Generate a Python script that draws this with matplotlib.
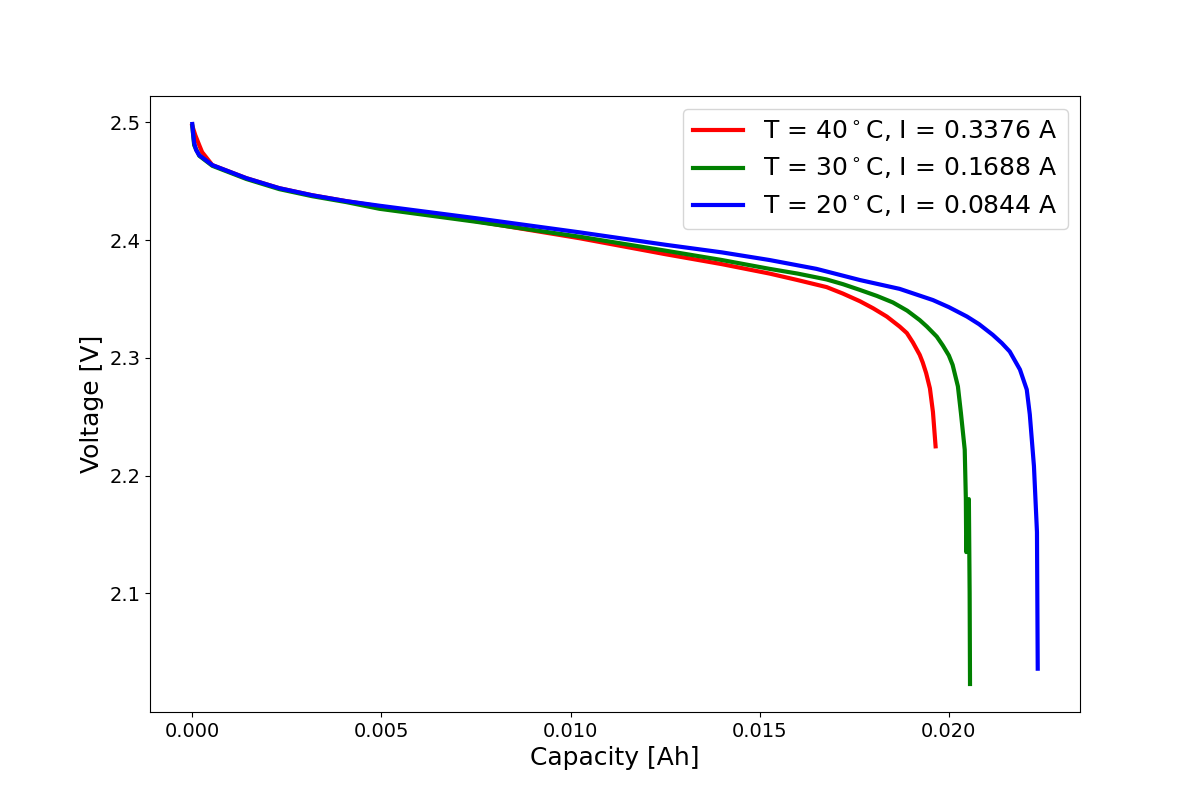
import numpy as np
import matplotlib
matplotlib.use('Agg')
import matplotlib.pyplot as plt

# capacity [Ah] / voltage [V]
cap_40 = [0.0, 0.00008, 0.000185, 0.00026, 0.00053, 0.00143, 0.0023, 0.00317, 0.00407, 0.00495,
          0.0075, 0.01024, 0.0125, 0.0140, 0.01526, 0.0160, 0.01677, 0.0172, 0.01765, 0.0180,
          0.01836, 0.0187, 0.01889, 0.01905, 0.01923, 0.01931, 0.0194, 0.0195, 0.01958, 0.01965]
v_40 = [2.497, 2.489, 2.4805, 2.4746, 2.4636, 2.4525, 2.444, 2.438, 2.433, 2.4285,
        2.416, 2.4015, 2.388, 2.3795, 2.3715, 2.3660, 2.3600, 2.3545, 2.3480, 2.3420,
        2.3350, 2.3265, 2.3210, 2.3130, 2.3025, 2.2960, 2.2870, 2.2740, 2.2540, 2.2248]

cap_30 = [0.0, 0.00005, 0.000185, 0.00053, 0.00143, 0.0023, 0.00317, 0.00407, 0.00495,
          0.0075, 0.01024, 0.0125, 0.0140, 0.01526, 0.0160, 0.01677, 0.0172, 0.01765, 0.0181,
          0.01852, 0.0189, 0.01923, 0.01942, 0.01968, 0.01984, 0.02, 0.0201, 0.02024, 0.02032,
          0.02042, 0.02045, 0.02046, 0.02053, 0.02055, 0.02056]
v_30 = [2.497, 2.4805, 2.4715, 2.4630, 2.4518, 2.4432, 2.4372, 2.4322, 2.4265,
        2.4155, 2.4028, 2.391, 2.3830, 2.3755, 2.3715, 2.3665, 2.3625, 2.3576, 2.3525,
        2.3470, 2.3400, 2.3320, 2.3265, 2.3180, 2.3105, 2.3020, 2.2940, 2.2757, 2.2530,
        2.2220, 2.180, 2.135, 2.180, 2.100, 2.023]

cap_20 = [0.0, 0.00002, 0.00005, 0.0001, 0.000185, 0.00053, 0.00143, 0.0023, 0.00317, 0.00407,
          0.00495, 0.0075, 0.01024, 0.0125, 0.0140, 0.01526, 0.0165, 0.01765, 0.0187, 0.01958,
          0.0200, 0.02048, 0.0208, 0.02116, 0.0214, 0.02161, 0.02188, 0.02206, 0.02214,
          0.02225, 0.02233, 0.02235]
v_20 = [2.4985, 2.491, 2.4825, 2.4765, 2.4720, 2.4636, 2.4525, 2.444, 2.438, 2.433,
        2.4291, 2.4185, 2.4065, 2.396, 2.3895, 2.383, 2.3755, 2.366, 2.3585, 2.349,
        2.3430, 2.335, 2.3285, 2.3195, 2.3125, 2.3053, 2.290, 2.273, 2.252,
        2.208, 2.152, 2.036]

labels = ['T = 40$^\\circ$C, I = 0.3376 A',
          'T = 30$^\\circ$C, I = 0.1688 A',
          'T = 20$^\\circ$C, I = 0.0844 A']

fig, ax = plt.subplots(figsize=(12, 8), dpi=100)
ax.plot(cap_40, v_40, color='red', lw=3, label=labels[0])
ax.plot(cap_30, v_30, color='green', lw=3, label=labels[1])
ax.plot(cap_20, v_20, color='blue', lw=3, label=labels[2])
ax.set_xlabel('Capacity [Ah]', fontsize=18)
ax.set_ylabel('Voltage [V]', fontsize=18)
ax.tick_params(labelsize=14)
ax.set_yticks([2.1, 2.2, 2.3, 2.4, 2.5])
ax.legend(fontsize=18, loc='upper right')
plt.savefig('out.png')
